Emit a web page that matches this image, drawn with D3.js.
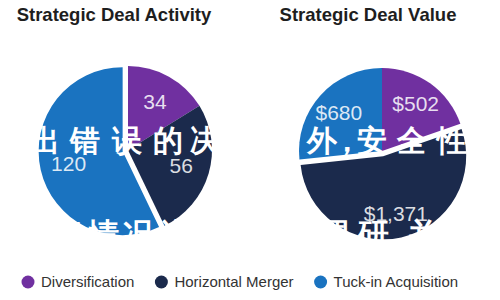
<!DOCTYPE html>
<html>
<head>
<meta charset="utf-8">
<script src="https://cdn.jsdelivr.net/npm/d3@7"></script>
<style>
  body { margin: 0; background: #fff; }
  text { font-family: "Liberation Sans", Arial, sans-serif; }
</style>
</head>
<body>
<div id="chart"></div>
<script>
const categories = ["Diversification", "Horizontal Merger", "Tuck-in Acquisition"];
const dealCounts = [34, 56, 120];
const dealValues = [502, 1371, 680];
const titles = ["Strategic Deal Activity", "Strategic Deal Value"];
const valueLabels = ["$502", "$1,371", "$680"];
const countLabels = dealCounts.map(String);
// overlay text seen on the picture
const overlay1 = ["出", "错", "误", "的", "决", "策", "此", "外", "，", "安", "全", "性"];
const overlay2 = ["了", "情", "况", "进", "行", "深", "入", "调", "研", "，", "并"];

const colours = ["#7030a0", "#1b2a4c", "#1a73c0"];

const width = 500;
const height = 300;

const svg = d3.select("#chart").append("svg")
    .attr("width", width)
    .attr("height", height);

const colour = d3.scaleOrdinal().domain(categories).range(colours);
const pie = d3.pie().sort(null).value(d => d.value);

const pies = [
    { title: titles[0], cx: 128, cy: 150, r: 84, values: dealCounts, labels: countLabels, explode: 2, lr: 0.66 },
    { title: titles[1], cx: 382, cy: 151, r: 83, values: dealValues, labels: valueLabels, explode: 1, lr: 0.7 }
];

pies.forEach(p => {
    const data = categories.map((c, i) => ({ name: c, value: p.values[i], label: p.labels[i] }));
    const arcs = pie(data);
    const arc = d3.arc().innerRadius(0).outerRadius(p.r);
    const labelArc = d3.arc().innerRadius(p.r * p.lr).outerRadius(p.r * p.lr);

    const g = svg.append("g").attr("transform", `translate(${p.cx}, ${p.cy})`);

    const offset = d => {
        if (d.index !== p.explode) return [0, 0];
        const a = (d.startAngle + d.endAngle) / 2;
        return [Math.sin(a) * 5.5, -Math.cos(a) * 5.5];
    };

    const slices = g.selectAll("g.slice").data(arcs).enter().append("g")
        .attr("class", "slice")
        .attr("transform", d => `translate(${offset(d)})`);

    slices.append("path")
        .attr("d", arc)
        .attr("fill", d => colour(d.data.name));

    slices.append("text")
        .attr("transform", d => `translate(${labelArc.centroid(d)})`)
        .attr("text-anchor", "middle")
        .attr("dy", "0.36em")
        .attr("font-size", 21)
        .attr("fill", "#fff")
        .attr("fill-opacity", 0.85)
        .text(d => d.data.label);

    svg.append("text")
        .attr("x", p.cx - 14)
        .attr("y", 21)
        .attr("text-anchor", "middle")
        .attr("font-size", 18.5)
        .attr("font-weight", "bold")
        .attr("fill", "#1e1e1e")
        .text(p.title);
});

// white overlay characters
const ov = svg.append("g")
    .attr("font-family", "'Noto Sans CJK SC', sans-serif")
    .attr("font-weight", "bold")
    .attr("fill", "#fff")
    .attr("text-anchor", "middle");
const xs1 = [45, 85, 127, 168, 205, 245, 283, 322, 347, 372, 412, 452];
ov.selectAll("text.l1").data(overlay1).enter().append("text")
    .attr("class", "l1")
    .attr("x", (d, i) => xs1[i])
    .attr("y", 151)
    .attr("font-size", 30)
    .text(d => d);
const xs2 = [68, 103, 138, 175, 215, 255, 295, 333, 373, 398, 423];
ov.selectAll("text.l2").data(overlay2).enter().append("text")
    .attr("class", "l2")
    .attr("x", (d, i) => xs2[i])
    .attr("y", 245)
    .attr("font-size", 31)
    .text(d => d);

// legend
const legend = svg.append("g").attr("transform", "translate(28, 282)");
let lx = 0;
categories.forEach((c, i) => {
    const item = legend.append("g").attr("transform", `translate(${lx}, 0)`);
    item.append("circle").attr("r", 6.5).attr("fill", colours[i]);
    const t = item.append("text")
        .attr("x", 13)
        .attr("dy", "0.35em")
        .attr("font-size", 15)
        .attr("fill", "#333")
        .text(c);
    lx += 13 + t.node().getComputedTextLength() + 27;
});
</script>
</body>
</html>
